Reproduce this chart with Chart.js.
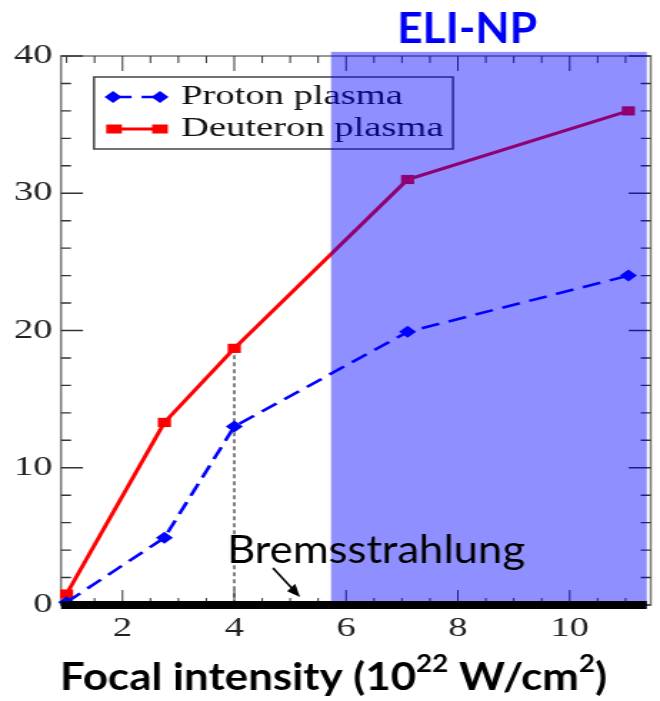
<!DOCTYPE html>
<html><head><meta charset="utf-8">
<script src="https://cdn.jsdelivr.net/npm/chart.js@4/dist/chart.umd.min.js"></script>
<style>html,body{margin:0;padding:0;background:#fff;overflow:hidden}
#c{display:block;width:660px !important;height:701px !important}</style>
</head><body>
<canvas id="c" width="462" height="701" style="width:660px;height:701px"></canvas>
<script>
// ---- data ----
const intensity = [1, 2.75, 4, 7.1, 11.05];
const protonYield = [0.2, 4.9, 13, 19.9, 24];
const deuteronYield = [0.8, 13.3, 18.7, 31, 36];
const bremIntensity = [0.9, 11.38];
const bremYield = [0, 0];
const eliRange = [5.73, 11.38];
const eliTop = 40.3;
const guideIndex = 2;
const xTicks = [2, 4, 6, 8, 10];
const yTicks = [0, 10, 20, 30, 40];
const seriesNames = ['Proton plasma', 'Deuteron plasma'];
const regionLabel = 'ELI-NP';
const bremLabel = 'Bremsstrahlung';

const SX = 660 / 462; // horizontal stretch of the canvas (CSS)
const X = v => v / SX;

function fitText(ctx, str, font, left, baseline, width, color) {
  ctx.save();
  ctx.font = font;
  const w = ctx.measureText(str).width;
  const k = width / w;
  ctx.translate(X(left), baseline);
  ctx.scale(k / SX, 1);
  ctx.fillStyle = color;
  ctx.textBaseline = 'alphabetic';
  ctx.textAlign = 'left';
  ctx.fillText(str, 0, 0);
  ctx.restore();
}

function diamond(ctx, x, y, r) {
  ctx.beginPath();
  ctx.moveTo(x, y - r); ctx.lineTo(x + r, y); ctx.lineTo(x, y + r); ctx.lineTo(x - r, y); ctx.closePath();
  ctx.fill();
}

const deco = {
  id: 'deco',
  beforeDatasetsDraw(chart) {
    const { ctx, chartArea: a, scales: { x, y } } = chart;
    ctx.save();
    // frame
    ctx.strokeStyle = '#777';
    ctx.lineWidth = 1.5;
    ctx.strokeRect(a.left, a.top, a.right - a.left, a.bottom - a.top);
    // y ticks (inward, both sides)
    ctx.strokeStyle = '#333';
    ctx.lineWidth = 1.4;
    for (let k = 0; k <= 20; k++) {
      const v = k * 2;
      const p = y.getPixelForValue(v);
      const L = (v % 10 === 0) ? X(22) : X(10);
      ctx.beginPath();
      ctx.moveTo(a.left, p); ctx.lineTo(a.left + L, p);
      ctx.moveTo(a.right, p); ctx.lineTo(a.right - L, p);
      ctx.stroke();
    }
    // x ticks (inward, top and bottom)
    ctx.lineWidth = 1;
    for (let k = 2; k <= 22; k++) {
      const v = k / 2;
      if (v > x.max) break;
      const p = x.getPixelForValue(v);
      const L = (k % 4 === 0) ? 15 : 7;
      ctx.beginPath();
      ctx.moveTo(p, a.top); ctx.lineTo(p, a.top + L);
      ctx.moveTo(p, a.bottom); ctx.lineTo(p, a.bottom - L);
      ctx.stroke();
    }
    // legend
    ctx.strokeStyle = '#444';
    ctx.lineWidth = 1.5;
    ctx.strokeRect(X(94), 77, X(453) - X(94), 72);
    // proton sample
    ctx.strokeStyle = '#0000ff';
    ctx.fillStyle = '#0000ff';
    ctx.lineWidth = 2.6;
    ctx.setLineDash([13, 7]);
    ctx.beginPath(); ctx.moveTo(X(113), 97); ctx.lineTo(X(160), 97); ctx.stroke();
    ctx.setLineDash([]);
    diamond(ctx, X(113), 97, 6);
    diamond(ctx, X(160), 97, 6);
    // deuteron sample
    ctx.strokeStyle = '#ff0000';
    ctx.fillStyle = '#ff0000';
    ctx.lineWidth = 3;
    ctx.beginPath(); ctx.moveTo(X(113), 129); ctx.lineTo(X(160), 129); ctx.stroke();
    ctx.fillRect(X(114) - 5.5, 124.5, 11, 9);
    ctx.fillRect(X(160) - 5.5, 124.5, 11, 9);
    // legend texts
    ctx.fillStyle = '#111';
    ctx.font = '27px "Liberation Serif"';
    ctx.textBaseline = 'alphabetic';
    ctx.textAlign = 'left';
    ctx.fillText(seriesNames[0], X(181), 104);
    ctx.fillText(seriesNames[1], X(181), 136);
    // dotted guide at the 4e22 point
    ctx.strokeStyle = '#333';
    ctx.lineWidth = 1.2;
    ctx.setLineDash([4, 3]);
    const gx = x.getPixelForValue(intensity[guideIndex]);
    ctx.beginPath();
    ctx.moveTo(gx, y.getPixelForValue(deuteronYield[guideIndex]));
    ctx.lineTo(gx, y.getPixelForValue(0));
    ctx.stroke();
    ctx.restore();
  },
  afterDatasetDraw(chart, args) {
    if (args.index !== 1) return;
    const { ctx, scales: { x, y } } = chart;
    const l = x.getPixelForValue(eliRange[0]);
    const r = x.getPixelForValue(eliRange[1]);
    const t = y.getPixelForValue(eliTop);
    const b = y.getPixelForValue(0);
    ctx.save();
    ctx.fillStyle = 'rgba(0,0,255,0.44)';
    ctx.fillRect(l, t, r - l, b - t);
    ctx.restore();
  },
  afterDatasetsDraw(chart) {
    const { ctx } = chart;
    // ELI-NP label
    fitText(ctx, regionLabel, 'bold 42px "Lato"', 397, 43, 140, '#0000f5');
    // Bremsstrahlung label
    fitText(ctx, bremLabel, '39px "Lato"', 227, 563, 298, '#000');
    // arrow
    ctx.save();
    ctx.scale(1 / SX, 1);
    const x1 = 273, y1 = 568, x2 = 300, y2 = 597;
    const ang = Math.atan2(y2 - y1, x2 - x1);
    ctx.strokeStyle = '#000';
    ctx.fillStyle = '#000';
    ctx.lineWidth = 2;
    ctx.beginPath();
    ctx.moveTo(x1, y1);
    ctx.lineTo(x2 - 9 * Math.cos(ang), y2 - 9 * Math.sin(ang));
    ctx.stroke();
    ctx.beginPath();
    ctx.moveTo(x2, y2);
    ctx.lineTo(x2 - 13 * Math.cos(ang) + 5.5 * Math.sin(ang), y2 - 13 * Math.sin(ang) - 5.5 * Math.cos(ang));
    ctx.lineTo(x2 - 13 * Math.cos(ang) - 5.5 * Math.sin(ang), y2 - 13 * Math.sin(ang) + 5.5 * Math.cos(ang));
    ctx.closePath();
    ctx.fill();
    ctx.restore();
    // x-axis title with superscripts
    const runs = [
      { t: 'Focal intensity (10', sup: false },
      { t: '22', sup: true },
      { t: ' W/cm', sup: false },
      { t: '2', sup: true },
      { t: ')', sup: false }
    ];
    const fMain = 'bold 38px "Lato"', fSup = 'bold 24px "Lato"';
    ctx.save();
    let total = 0;
    runs.forEach(r => { ctx.font = r.sup ? fSup : fMain; r.w = ctx.measureText(r.t).width; total += r.w; });
    const k = 547 / total;
    ctx.translate(X(60), 690);
    ctx.scale(k / SX, 1);
    ctx.fillStyle = '#000';
    ctx.textBaseline = 'alphabetic';
    let cx = 0;
    runs.forEach(r => {
      ctx.font = r.sup ? fSup : fMain;
      ctx.fillText(r.t, cx, r.sup ? -18 : 0);
      cx += r.w;
    });
    ctx.restore();
  }
};

const pts = (xs, ys) => xs.map((v, i) => ({ x: v, y: ys[i] }));
const tickFont = { family: 'Liberation Serif', size: 27 };

new Chart(document.getElementById('c'), {
  type: 'line',
  data: {
    datasets: [
      {
        label: bremLabel,
        data: pts(bremIntensity, bremYield),
        borderColor: '#000', borderWidth: 8, pointRadius: 0, clip: false, order: 0
      },
      {
        label: seriesNames[0],
        data: pts(intensity, protonYield),
        borderColor: '#0000ff', backgroundColor: '#0000ff', borderWidth: 2.6,
        borderDash: [13, 7], pointStyle: 'rectRot', pointRadius: 6, pointBorderWidth: 0,
        clip: false, order: 1
      },
      {
        label: seriesNames[1],
        data: pts(intensity, deuteronYield),
        borderColor: '#ff0000', backgroundColor: '#ff0000', borderWidth: 3,
        pointStyle: 'rect', pointRadius: 6.5, pointBorderWidth: 0,
        clip: false, order: 2
      }
    ]
  },
  options: {
    responsive: false,
    animation: false,
    devicePixelRatio: 1,
    layout: { padding: { top: 56, right: 2, left: 0, bottom: 0 } },
    plugins: { legend: { display: false }, tooltip: { enabled: false } },
    elements: { line: { tension: 0 } },
    scales: {
      x: {
        type: 'linear', min: 0.9, max: 11.45,
        grid: { display: false, drawTicks: false },
        border: { display: false },
        afterBuildTicks: s => { s.ticks = xTicks.map(v => ({ value: v })); },
        afterFit: s => { s.height = 96; },
        ticks: { padding: 8, font: tickFont, color: '#222', maxRotation: 0, autoSkip: false }
      },
      y: {
        type: 'linear', min: 0, max: 40,
        grid: { display: false, drawTicks: false },
        border: { display: false },
        afterBuildTicks: s => { s.ticks = yTicks.map(v => ({ value: v })); },
        afterFit: s => { s.width = X(61); },
        ticks: { padding: 6, font: tickFont, color: '#222', autoSkip: false }
      }
    }
  },
  plugins: [deco]
});
</script>
</body></html>
